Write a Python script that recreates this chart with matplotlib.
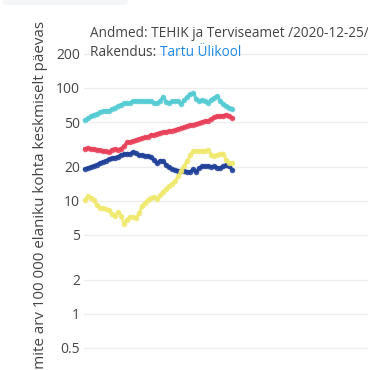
import numpy as np
import matplotlib.pyplot as plt
from matplotlib.patches import FancyBboxPatch

# -----------------------
# Data (log scale)
# -----------------------
days = np.arange(50)

cyan_vals = [52, 54, 56, 58, 59, 61, 62, 63, 63, 65,
             67, 69, 71, 73, 73, 74, 76, 77, 77, 77,
             76, 77, 76, 73, 73, 77, 84, 75, 74, 76,
             76, 77, 72, 78, 83, 88, 90, 80, 76, 78,
             77, 74, 79, 82, 85, 76, 72, 69, 67, 65]

red_vals = [29, 29.5, 29, 29, 28.5, 28, 27.5, 27.5, 27, 28.5,
            29, 28.5, 29, 30.5, 33, 33.5, 34, 34.5, 35.5, 36,
            36.5, 37, 38.5, 38.5, 39.5, 40, 40.5, 41, 41.5, 42,
            42.5, 43.5, 44, 45, 46, 47, 47.5, 48, 49, 50,
            51, 51.5, 53, 55, 56, 56.5, 57, 58, 56.5, 54]

blue_vals = [19.2, 19.6, 20, 20.5, 21, 21.6, 22.2, 22.8, 23.3, 23.8,
             24.2, 24.7, 25.4, 26, 26.2, 26.2, 27.2, 26.4, 25.4, 25.5,
             25.2, 25, 24.5, 23.2, 21.5, 22.8, 22.5, 20.8, 19.8, 19.2,
             18.7, 18.5, 18.4, 18.3, 18.1, 18.1, 19, 18.1, 19.6, 20.3,
             20.2, 20.3, 20.1, 20.2, 19.7, 19.6, 20.3, 20.7, 20.2, 18.9]

yellow_vals = [10.1, 11.0, 10.6, 10.2, 9.2, 8.6, 8.6, 8.5, 8.3, 7.7,
               7.3, 8.0, 7.4, 6.3, 6.8, 7.2, 7.2, 7.0, 7.8, 9.0,
               9.6, 10.3, 10.6, 10.8, 10.4, 11.2, 12.1, 12.8, 13.6, 14.2,
               15.0, 16.5, 18.5, 20.5, 22.5, 25.5, 27.7, 27.6, 27.6, 27.7,
               27.8, 28.3, 25.5, 25.0, 25.6, 26.2, 26.0, 23.0, 21.8, 21.8]

series = [
    (cyan_vals, "#55cbd3"),
    (red_vals, "#e8405a"),
    (blue_vals, "#1f3f98"),
    (yellow_vals, "#f0e96e"),
]

y_ticks = [0.5, 1, 2, 5, 10, 20, 50, 100, 200]
y_ticklabels = ["0.5", "1", "2", "5", "10", "20", "50", "100", "200"]

# -----------------------
# Figure
# -----------------------
W, H = 368, 370
fig = plt.figure(figsize=(W / 100, H / 100), dpi=100)
plt.rcParams['font.family'] = ['Open Sans', 'DejaVu Sans']

# toolbar-like grey box at top left
fig.patches.append(FancyBboxPatch((3 / W, 1 - 5 / H), 125 / W, 8 / H,
                                  boxstyle="round,pad=0,rounding_size=0.01",
                                  transform=fig.transFigure,
                                  facecolor="#f5f6f8", edgecolor="none"))

ax = fig.add_axes([84 / W, 0, 1 - 84 / W, 1 - 40 / H])
ax.set_yscale("log")
ax.set_ylim(0.319, 266)
ax.set_xlim(-0.3, 94)

for vals, color in series:
    ax.plot(days, vals, color=color, lw=2.3, alpha=0.85,
            marker="o", markersize=4, markeredgewidth=0, clip_on=False)

ax.set_yticks(y_ticks)
ax.set_yticklabels(y_ticklabels)
ax.yaxis.set_minor_locator(plt.NullLocator())
ax.set_xticks([])
ax.tick_params(axis="y", length=0, pad=3, labelsize=10, labelcolor="#444444")
ax.grid(axis="y", color="#eeeeee", lw=1)
ax.set_axisbelow(True)
for s in ax.spines.values():
    s.set_visible(False)

# y label (cut off at the bottom like the original)
fig.text(41 / W, 1 - 21 / H,
         "Uute juhtumite arv 100 000 elaniku kohta keskmiselt päevas",
         rotation=90, ha="center", va="top", fontsize=10.9, color="#444444")

# source notes
fig.text(90 / W, 1 - 37 / H, "Andmed: TEHIK ja Terviseamet /2020-12-25/",
         fontsize=9.8, color="#444444", va="baseline")
t = fig.text(90 / W, 1 - 56 / H, "Rakendus: ",
             fontsize=9.8, color="#444444", va="baseline")
fig.canvas.draw()
bb = t.get_window_extent()
fig.text(bb.x1 / W, 1 - 56 / H, "Tartu Ülikool",
         fontsize=9.8, color="#1e88e5", va="baseline")

fig.savefig("out.png", dpi=100)
